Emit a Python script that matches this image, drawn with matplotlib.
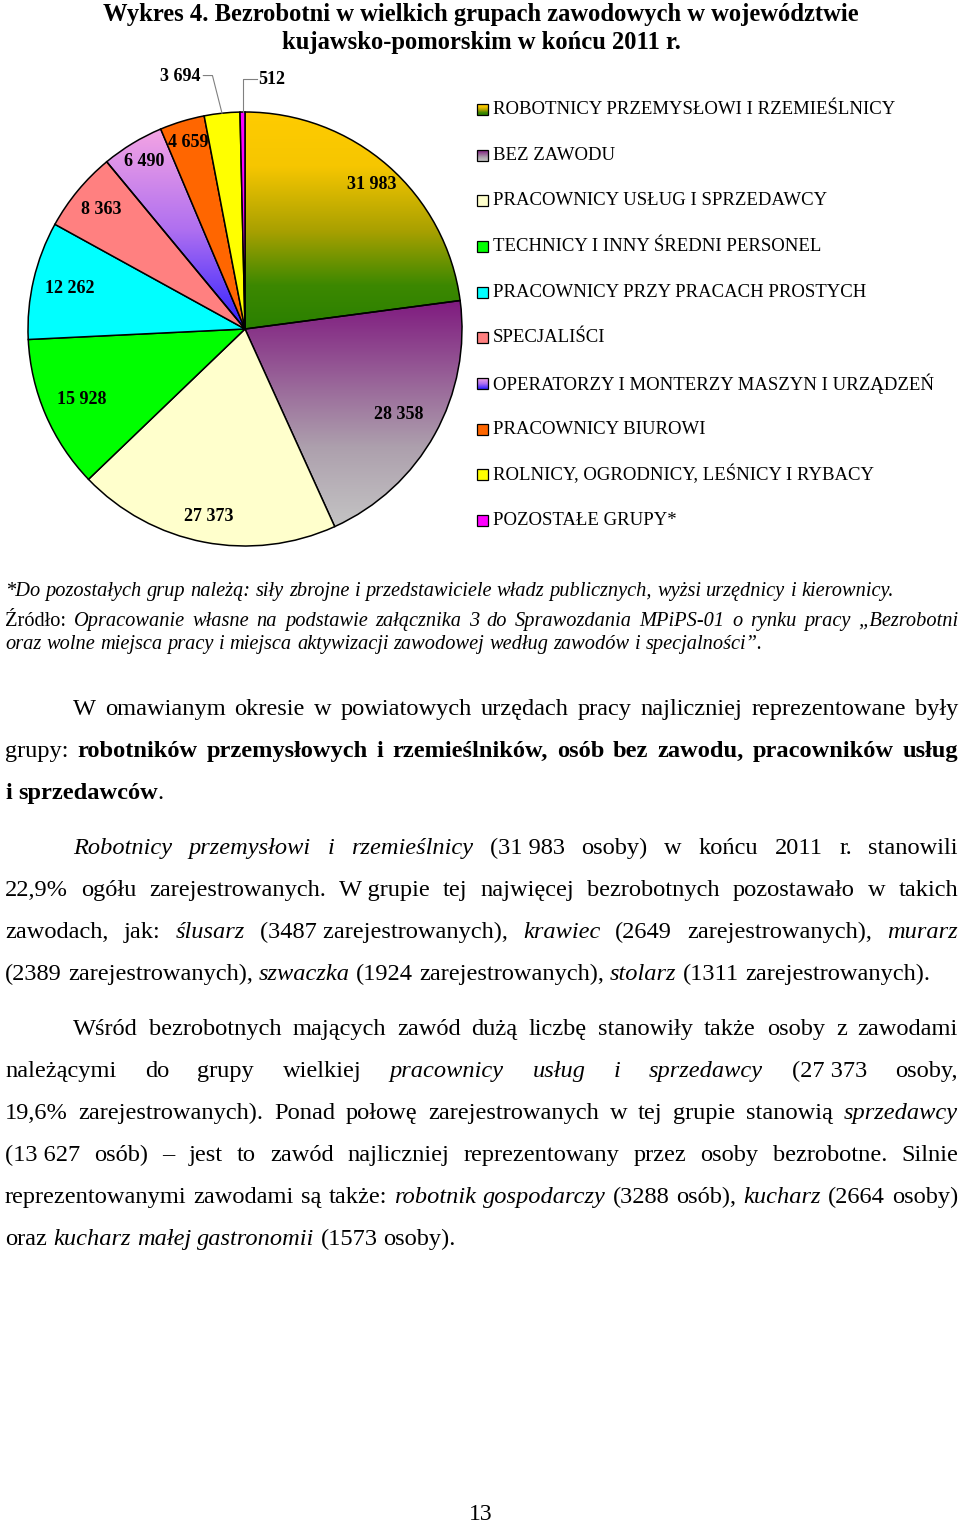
import numpy as np
import matplotlib
matplotlib.use('Agg')
import matplotlib.pyplot as plt
from matplotlib.colors import LinearSegmentedColormap
from matplotlib.patches import Rectangle

plt.rcParams['font.family'] = ['Liberation Serif', 'DejaVu Serif']

# dane wykresu
groups = ['ROBOTNICY PRZEMYSŁOWI I RZEMIEŚLNICY', 'BEZ ZAWODU',
          'PRACOWNICY USŁUG I SPRZEDAWCY', 'TECHNICY I INNY ŚREDNI PERSONEL',
          'PRACOWNICY PRZY PRACACH PROSTYCH', 'SPECJALIŚCI',
          'OPERATORZY I MONTERZY MASZYN I URZĄDZEŃ', 'PRACOWNICY BIUROWI',
          'ROLNICY, OGRODNICY, LEŚNICY I RYBACY', 'POZOSTAŁE GRUPY*']
counts = [31983, 28358, 27373, 15928, 12262, 8363, 6490, 4659, 3694, 512]
value_labels = ['31 983', '28 358', '27 373', '15 928', '12 262', '8 363',
                '6 490', '4 659', '3 694', '512']

colors = ['#C8A800', '#A06AA0', '#FFFFCC', '#00FF00', '#00FFFF', '#FF8080',
          '#A070F0', '#FF6600', '#FFFF00', '#FF00FF']
# gradienty: lista (pozycja od dolu 0..1, kolor)
gradients = {
    0: [(0.0, '#2A8000'), (0.2, '#3C8800'), (0.45, '#A8A000'),
        (0.75, '#F6C600'), (1.0, '#FFCC00')],
    1: [(0.0, '#C4C4C4'), (0.35, '#ADA0AD'), (1.0, '#7F1A7F')],
    6: [(0.0, '#3020FF'), (0.5, '#B070F0'), (1.0, '#F4A4E4')],
}
label_r = [0.885, 0.81, 0.88, 0.82, 0.83, 0.86, 0.90, 0.90, None, None]

title = ['Wykres 4. Bezrobotni w wielkich grupach zawodowych w województwie',
         'kujawsko-pomorskim w końcu 2011 r.']

# _ = kursywa, # = pogrubienie, ~ = twarda spacja
notes = [
    (591, 5, False, '_*Do pozostałych grup należą: siły zbrojne i przedstawiciele władz publicznych, wyżsi urzędnicy i kierownicy._'),
    (621, 5, True, 'Źródło: _Opracowanie własne na podstawie załącznika 3 do Sprawozdania MPiPS-01 o rynku pracy „Bezrobotni_'),
    (644, 5, False, '_oraz wolne miejsca pracy i miejsca aktywizacji zawodowej według zawodów i specjalności”._'),
]

body = [
    (708, 73, True, 'W omawianym okresie w powiatowych urzędach pracy najliczniej reprezentowane były'),
    (750, 5, True, 'grupy: #robotników przemysłowych i rzemieślników, osób bez zawodu, pracowników usług#'),
    (792, 5, False, '#i sprzedawców#.'),
    (847, 73, True, '_Robotnicy przemysłowi i rzemieślnicy_ (31~983 osoby) w końcu 2011 r. stanowili'),
    (889, 5, True, '22,9% ogółu zarejestrowanych. W~grupie tej najwięcej bezrobotnych pozostawało w takich'),
    (931, 5, True, 'zawodach, jak: _ślusarz_ (3487~zarejestrowanych), _krawiec_ (2649 zarejestrowanych), _murarz_'),
    (973, 5, False, '(2389 zarejestrowanych), _szwaczka_ (1924 zarejestrowanych), _stolarz_ (1311 zarejestrowanych).'),
    (1028, 73, True, 'Wśród bezrobotnych mających zawód dużą liczbę stanowiły także osoby z zawodami'),
    (1070, 5, True, 'należącymi do grupy wielkiej _pracownicy usług i sprzedawcy_ (27~373 osoby,'),
    (1112, 5, True, '19,6% zarejestrowanych). Ponad połowę zarejestrowanych w tej grupie stanowią _sprzedawcy_'),
    (1154, 5, True, '(13~627 osób) – jest to zawód najliczniej reprezentowany przez osoby bezrobotne. Silnie'),
    (1196, 5, True, 'reprezentowanymi zawodami są także: _robotnik gospodarczy_ (3288 osób), _kucharz_ (2664 osoby)'),
    (1238, 5, False, 'oraz _kucharz małej gastronomii_ (1573 osoby).'),
]

fig = plt.figure(figsize=(9.6, 15.24), dpi=100)
fig.patch.set_facecolor('white')
bg = fig.add_axes([0, 0, 1, 1])
bg.set_xlim(0, 960)
bg.set_ylim(1524, 0)
bg.axis('off')
renderer = fig.canvas.get_renderer()

for i, t in enumerate(title):
    bg.text(481, 14 + 28 * i, t, ha='center', va='center', fontsize=17.7,
            fontweight='bold')


def styled_line(y, x0, justify, markup, size, right=958):
    chars = []
    ital = bold = False
    for ch in markup:
        if ch == '_':
            ital = not ital
            continue
        if ch == '#':
            bold = not bold
            continue
        chars.append((ch, ital, bold))
    words, cur = [], []
    for c in chars:
        if c[0] == ' ':
            if cur:
                words.append(cur)
            cur = []
        else:
            cur.append(c)
    if cur:
        words.append(cur)
    placed = []
    total = 0
    for w in words:
        segs = []
        for ch, it, bd in w:
            ch = ' ' if ch == '~' else ch
            if segs and segs[-1][1] == it and segs[-1][2] == bd:
                segs[-1][0] += ch
            else:
                segs.append([ch, it, bd])
        items = []
        for s, it, bd in segs:
            t = bg.text(0, y, s, fontsize=size, va='baseline', ha='left',
                        style='italic' if it else 'normal',
                        fontweight='bold' if bd else 'normal')
            wd = t.get_window_extent(renderer).width
            items.append((t, wd))
            total += wd
        placed.append(items)
    a = bg.text(0, 0, 'x x', fontsize=size)
    b = bg.text(0, 0, 'xx', fontsize=size)
    sp = a.get_window_extent(renderer).width - b.get_window_extent(renderer).width
    a.remove()
    b.remove()
    if justify and len(placed) > 1:
        gap = (right - x0 - total) / (len(placed) - 1)
    else:
        gap = sp
    x = x0
    for items in placed:
        for t, wd in items:
            t.set_x(x)
            x += wd
        x += gap


for y, x0, just, line in notes:
    styled_line(y + 5, x0, just, line, 14.7)
for y, x0, just, line in body:
    styled_line(y + 7, x0, just, line, 17.6)

bg.text(481, 1515, '13', ha='center', va='center', fontsize=17)

# legenda
for i, g in enumerate(groups):
    yc = 109.5 + i * 45.65
    if i in gradients:
        cm = LinearSegmentedColormap.from_list('lg%d' % i, gradients[i])
        bg.imshow(np.linspace(0, 1, 32).reshape(-1, 1), cmap=cm, aspect='auto',
                  extent=(477, 488, yc + 5.5, yc - 5.5), origin='lower', zorder=2)
        bg.add_patch(Rectangle((477, yc - 5.5), 11, 11, facecolor='none',
                               edgecolor='black', lw=0.9, zorder=3))
    else:
        bg.add_patch(Rectangle((477, yc - 5.5), 11, 11, facecolor=colors[i],
                               edgecolor='black', lw=0.9, zorder=3))
    bg.text(493, yc, g, ha='left', va='center', fontsize=13.5)

bg.set_xlim(0, 960)
bg.set_ylim(1524, 0)

# wykres kolowy
ax = fig.add_axes([28 / 960, (1524 - 546) / 1524, 434 / 960, 434 / 1524])
wedges, _ = ax.pie(counts, colors=colors, startangle=90, counterclock=False,
                   wedgeprops=dict(edgecolor='black', linewidth=1.1))

for i, stops in gradients.items():
    w = wedges[i]
    v = w.get_path().vertices
    cm = LinearSegmentedColormap.from_list('g%d' % i, stops)
    im = ax.imshow(np.linspace(0, 1, 256).reshape(-1, 1), cmap=cm, aspect='auto',
                   origin='lower', zorder=0.5,
                   extent=(v[:, 0].min(), v[:, 0].max(), v[:, 1].min(), v[:, 1].max()))
    im.set_clip_path(w)
    w.set_facecolor('none')

for i, w in enumerate(wedges):
    if label_r[i] is None:
        continue
    mid = np.deg2rad((w.theta1 + w.theta2) / 2)
    ax.text(label_r[i] * np.cos(mid), label_r[i] * np.sin(mid), value_labels[i],
            ha='center', va='center', fontsize=13, fontweight='bold')

# etykiety zewnetrzne z liniami
w = wedges[8]
mid = np.deg2rad((w.theta1 + w.theta2) / 2)
ex, ey = np.cos(mid), np.sin(mid)
ax.plot([-0.192, -0.150, ex], [1.168, 1.168, ey], color='#808080', lw=0.8,
        clip_on=False)
ax.text(-0.300, 1.162, value_labels[8], ha='center', va='center', fontsize=13,
        fontweight='bold')
w = wedges[9]
mid = np.deg2rad((w.theta1 + w.theta2) / 2)
ex, ey = np.cos(mid), np.sin(mid)
ax.plot([0.055, ex, ex], [1.152, 1.152, ey], color='#808080', lw=0.8,
        clip_on=False)
ax.text(0.122, 1.152, value_labels[9], ha='center', va='center', fontsize=13,
        fontweight='bold')

ax.set_xlim(-1, 1)
ax.set_ylim(-1, 1)
ax.axis('off')

fig.savefig('out.png', dpi=100)
